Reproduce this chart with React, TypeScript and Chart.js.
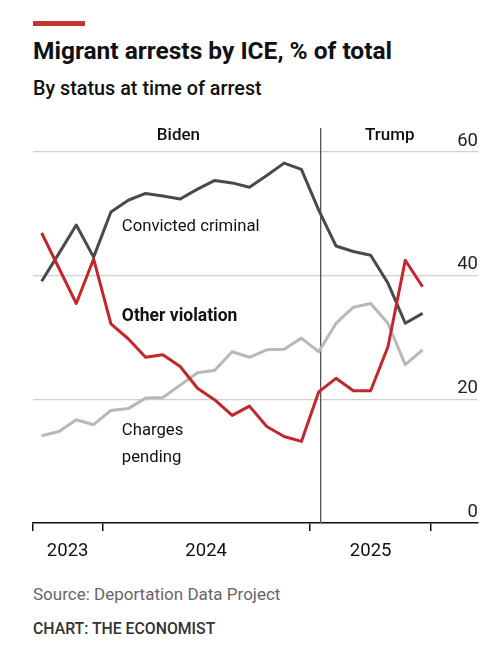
import React, { useEffect, useRef } from "react";
import { Chart, registerables } from "chart.js";

Chart.register(...registerables);

// Monthly observations (mid-month), Sep 2023 – Jul 2025
const months = [
  "2023-09", "2023-10", "2023-11", "2023-12",
  "2024-01", "2024-02", "2024-03", "2024-04", "2024-05", "2024-06",
  "2024-07", "2024-08", "2024-09", "2024-10", "2024-11", "2024-12",
  "2025-01", "2025-02", "2025-03", "2025-04", "2025-05", "2025-06", "2025-07",
];

const convictedCriminal = [
  39.1, 43.6, 48.2, 43.0, 50.3, 52.2, 53.3, 52.9, 52.4, 54.0, 55.4, 55.0,
  54.3, 56.2, 58.2, 57.2, 50.6, 44.8, 43.9, 43.3, 38.8, 32.3, 33.9,
];

const otherViolation = [
  46.9, 41.2, 35.5, 42.7, 32.2, 29.8, 26.8, 27.2, 25.3, 21.8, 19.9, 17.4,
  18.9, 15.6, 14.0, 13.2, 21.2, 23.4, 21.4, 21.4, 28.5, 42.5, 38.2,
];

const chargesPending = [
  14.1, 14.8, 16.7, 15.9, 18.2, 18.5, 20.2, 20.3, 22.3, 24.3, 24.7, 27.7,
  26.8, 28.0, 28.1, 29.9, 27.7, 32.3, 34.9, 35.5, 32.3, 25.6, 28.0,
];

const yearLabels = ["2023", "2024", "2025"];
const yAxisTicks = [0, 20, 40, 60];
const inaugurationDate = "2025-01-20";

// helpers: month offset from axis start (Sep 2023)
const startYear = 2023;
const startMonth = 9;
function monthOffset(ym: string): number {
  const [y, m, d] = ym.split("-").map(Number);
  let v = (y - startYear) * 12 + (m - startMonth);
  if (d) {
    const dim = new Date(y, m, 0).getDate();
    v += (d - 1) / dim;
  }
  return v;
}

const yearBoundaries = [months[0], "2024-01", "2025-01", "2025-08"].map(monthOffset);
const yearLabelPos = yearLabels.map((_, i) => (yearBoundaries[i] + yearBoundaries[i + 1]) / 2);
const trumpX = monthOffset(inaugurationDate);

const toPoints = (arr: number[]) => arr.map((v, i) => ({ x: monthOffset(months[i]) + 0.5, y: v }));

export default function App() {
  const ref = useRef<HTMLCanvasElement | null>(null);

  useEffect(() => {
    if (!ref.current) return;

    const annotations = {
      id: "annotations",
      beforeDatasetsDraw(chart: any) {
        const { ctx, chartArea, scales } = chart;
        const px = scales.x.getPixelForValue(trumpX);
        ctx.save();
        ctx.strokeStyle = "#555";
        ctx.lineWidth = 1.3;
        ctx.beginPath();
        ctx.moveTo(px, chartArea.top - 24);
        ctx.lineTo(px, chartArea.bottom);
        ctx.stroke();
        ctx.restore();
      },
      afterDatasetsDraw(chart: any) {
        const { ctx, chartArea, scales } = chart;
        const x = scales.x;
        const y = scales.y;
        ctx.save();
        ctx.fillStyle = "#111";
        ctx.textBaseline = "alphabetic";
        ctx.textAlign = "center";
        ctx.font = "500 17px Roboto";
        ctx.fillText("Biden", x.getPixelForValue(8.4), chartArea.top - 12);
        ctx.fillText("Trump", x.getPixelForValue(20.6), chartArea.top - 12);

        ctx.textAlign = "left";
        const lx = x.getPixelForValue(5.13);
        ctx.font = "400 16.7px Roboto";
        ctx.fillText("Convicted criminal", lx, y.getPixelForValue(47.3));
        ctx.font = "700 17.5px Roboto";
        ctx.fillText("Other violation", lx, y.getPixelForValue(32.7));
        ctx.font = "400 16.7px Roboto";
        ctx.fillText("Charges", lx, y.getPixelForValue(14.2));
        ctx.fillText("pending", lx, y.getPixelForValue(9.9));
        ctx.restore();
      },
    };

    const boundarySet = new Set(yearBoundaries);

    const chart = new Chart(ref.current, {
      type: "line",
      data: {
        datasets: [
          {
            label: "Other violation",
            data: toPoints(otherViolation),
            borderColor: "#c1272d",
            borderWidth: 3,
            pointRadius: 0,
            tension: 0,
          },
          {
            label: "Convicted criminal",
            data: toPoints(convictedCriminal),
            borderColor: "#4a4a4a",
            borderWidth: 3,
            pointRadius: 0,
            tension: 0,
          },
          {
            label: "Charges pending",
            data: toPoints(chargesPending),
            borderColor: "#b8b8b6",
            borderWidth: 3,
            pointRadius: 0,
            tension: 0,
          },
        ],
      },
      options: {
        animation: false,
        responsive: true,
        maintainAspectRatio: false,
        layout: { padding: { left: 33, right: 19, top: 52, bottom: 0 } },
        plugins: { legend: { display: false }, tooltip: { enabled: false } },
        elements: { line: { borderJoinStyle: "round", borderCapStyle: "butt" } },
        scales: {
          x: {
            type: "linear",
            min: 0,
            max: months.length + 2.7,
            afterBuildTicks: (scale: any) => {
              scale.ticks = [...yearBoundaries, ...yearLabelPos]
                .sort((a, b) => a - b)
                .map((v) => ({ value: v }));
            },
            afterFit: (scale: any) => {
              scale.height = 47;
            },
            ticks: {
              autoSkip: false,
              maxRotation: 0,
              padding: 9,
              color: "#111",
              font: { family: "Roboto", size: 18.5 },
              callback: (v: any) => {
                const idx = yearLabelPos.indexOf(Number(v));
                return idx >= 0 ? yearLabels[idx] : "";
              },
            },
            grid: {
              drawOnChartArea: false,
              drawTicks: true,
              tickLength: 8,
              lineWidth: 1.5,
              color: (c: any) => (boundarySet.has(c.tick?.value) ? "#111" : "rgba(0,0,0,0)"),
              tickColor: (c: any) => (boundarySet.has(c.tick?.value) ? "#111" : "rgba(0,0,0,0)"),
            },
            border: { display: true, color: "#111", width: 1.5 },
          },
          y: {
            position: "right",
            min: 0,
            max: 60,
            afterBuildTicks: (scale: any) => {
              scale.ticks = yAxisTicks.map((v) => ({ value: v }));
            },
            afterFit: (scale: any) => {
              scale.width = 0;
            },
            ticks: {
              mirror: true,
              padding: 0,
              labelOffset: -11,
              color: "#222",
              font: { family: "Roboto", size: 18.5 },
            },
            grid: {
              drawTicks: false,
              lineWidth: 1.3,
              color: (c: any) => (c.tick?.value === 0 ? "rgba(0,0,0,0)" : "#cfcfcf"),
            },
            border: { display: false },
          },
        },
      },
      plugins: [annotations],
    });

    return () => chart.destroy();
  }, []);

  return (
    <div
      style={{
        position: "absolute",
        left: 0,
        top: 0,
        width: 497,
        height: 653,
        background: "#fff",
        fontFamily: "Roboto, sans-serif",
        overflow: "hidden",
      }}
    >
      <div style={{ position: "absolute", left: 33, top: 21, width: 52, height: 5, background: "#c7332e" }} />
      <div
        style={{
          position: "absolute",
          left: 33,
          top: 39,
          fontSize: 24.5,
          lineHeight: "24.5px",
          fontWeight: 700,
          color: "#111",
          whiteSpace: "nowrap",
        }}
      >
        Migrant arrests by ICE, % of total
      </div>
      <div
        style={{
          position: "absolute",
          left: 33,
          top: 78.5,
          fontSize: 19.8,
          lineHeight: "19.8px",
          fontWeight: 500,
          color: "#111",
          whiteSpace: "nowrap",
        }}
      >
        By status at time of arrest
      </div>
      <div style={{ position: "absolute", left: 0, top: 100, width: 497, height: 470 }}>
        <canvas ref={ref} />
      </div>
      <div
        style={{
          position: "absolute",
          left: 33,
          top: 586,
          fontSize: 17,
          lineHeight: "17px",
          color: "#666",
          whiteSpace: "nowrap",
        }}
      >
        Source: Deportation Data Project
      </div>
      <div
        style={{
          position: "absolute",
          left: 33,
          top: 621,
          fontSize: 15.8,
          lineHeight: "15.8px",
          fontWeight: 500,
          color: "#333",
          whiteSpace: "nowrap",
        }}
      >
        CHART: THE ECONOMIST
      </div>
    </div>
  );
}
